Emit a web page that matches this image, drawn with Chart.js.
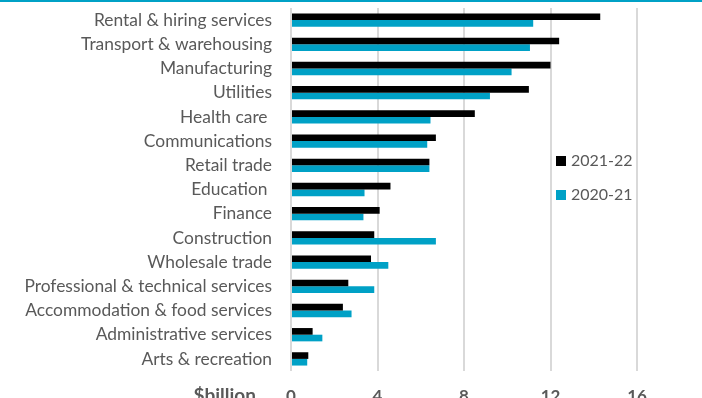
<!DOCTYPE html>
<html>
<head>
<meta charset="utf-8">
<script src="https://cdn.jsdelivr.net/npm/chart.js@4.4.0/dist/chart.umd.min.js"></script>
<style>
  html, body { margin: 0; padding: 0; background: #ffffff; overflow: hidden; width: 702px; height: 398px; }
  #wrap { position: relative; width: 702px; height: 420px; }
</style>
</head>
<body>
<div id="wrap"><canvas id="c"></canvas></div>
<script>
const categories = [
  "Rental & hiring services",
  "Transport & warehousing",
  "Manufacturing",
  "Utilities",
  "Health care ",
  "Communications",
  "Retail trade",
  "Education ",
  "Finance",
  "Construction",
  "Wholesale trade",
  "Professional & technical services",
  "Accommodation & food services",
  "Administrative services",
  "Arts & recreation"
];
const series2122 = [14.3, 12.4, 12.0, 11.0, 8.5, 6.7, 6.4, 4.6, 4.1, 3.85, 3.7, 2.65, 2.4, 1.0, 0.8];
const series2021 = [11.2, 11.05, 10.2, 9.2, 6.45, 6.3, 6.4, 3.4, 3.35, 6.7, 4.5, 3.85, 2.8, 1.45, 0.75];
const seriesLabels = ["2021-22", "2020-21"];
const xTicks = [0, 4, 8, 12, 16];
const unitLabel = "$billion";

const BLUE = "#00a1c6";
const TEXT = "#595959";
const FONT = "Lato, 'Open Sans', sans-serif";

const decor = {
  id: "decor",
  afterDraw(chart) {
    const ctx = chart.ctx;
    const ca = chart.chartArea;
    ctx.save();
    ctx.fillStyle = BLUE;
    ctx.fillRect(0, 0, chart.width, 2);
    ctx.fillStyle = TEXT;
    ctx.font = "bold 19px " + FONT;
    ctx.textAlign = "right";
    ctx.textBaseline = "middle";
    ctx.fillText(unitLabel, 256, ca.bottom + 25);
    ctx.font = "16px " + FONT;
    ctx.textAlign = "left";
    chart.data.datasets.forEach((ds, i) => {
      const y = 161 + i * 34;
      ctx.fillStyle = ds.backgroundColor;
      ctx.fillRect(556, y - 5, 10, 10);
      ctx.fillStyle = TEXT;
      ctx.fillText(ds.label, 571, y);
    });
    ctx.restore();
  }
};

function zeroPad(scale) {
  scale.paddingTop = 0; scale.paddingBottom = 0;
  scale.paddingLeft = 0; scale.paddingRight = 0;
}

new Chart(document.getElementById("c"), {
  type: "bar",
  data: {
    labels: categories,
    datasets: [
      { label: seriesLabels[0], data: series2122, backgroundColor: "#000000", categoryPercentage: 0.55, barPercentage: 1.0 },
      { label: seriesLabels[1], data: series2021, backgroundColor: BLUE, categoryPercentage: 0.55, barPercentage: 1.0 }
    ]
  },
  options: {
    indexAxis: "y",
    responsive: true,
    maintainAspectRatio: false,
    animation: false,
    layout: { padding: { top: 8, right: 65, bottom: 14, left: 0 } },
    plugins: { legend: { display: false }, tooltip: { enabled: false } },
    scales: {
      x: {
        min: 0, max: 16,
        afterBuildTicks(scale) { scale.ticks = xTicks.map(v => ({ value: v })); },
        afterFit(scale) { scale.height = 35; zeroPad(scale); },
        grid: { color: "#d9d9d9", lineWidth: 2, drawTicks: false },
        border: { display: false },
        ticks: { color: TEXT, padding: 15, font: { family: FONT, size: 17, weight: "bold" } }
      },
      y: {
        afterFit(scale) { scale.width = 291; zeroPad(scale); },
        grid: { display: false, drawTicks: false },
        border: { display: false },
        ticks: { color: TEXT, padding: 19, autoSkip: false, font: { family: FONT, size: 17.4 } }
      }
    }
  },
  plugins: [decor]
});
</script>
</body>
</html>
